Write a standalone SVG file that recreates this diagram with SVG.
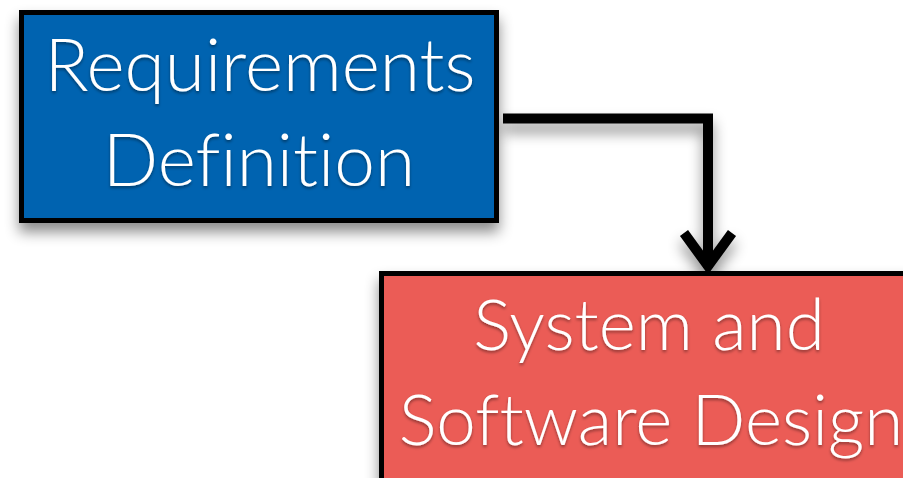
<svg xmlns="http://www.w3.org/2000/svg" width="903" height="478" viewBox="0 0 903 478">
<defs>
<filter id="sh" x="-20%" y="-20%" width="140%" height="160%">
<feDropShadow dx="0" dy="9" stdDeviation="7" flood-color="#000" flood-opacity="0.45"/>
</filter>
<filter id="tsh" x="-10%" y="-20%" width="120%" height="150%">
<feDropShadow dx="0" dy="2" stdDeviation="1.5" flood-color="#000" flood-opacity="0.4"/>
</filter>
</defs>
<style>
.box{stroke:#000;stroke-width:5}
.lbl{font-family:Lato,"Open Sans",sans-serif;font-weight:300;font-variant-ligatures:none;fill:#fff;text-anchor:middle}
.conn{fill:none;stroke:#000;stroke-width:10}
</style>
<rect width="903" height="478" fill="#fff"/>
<g id="connectors" filter="url(#sh)">
<polyline class="conn" points="503,118.5 708,118.5 708,268"/>
<polyline class="conn" stroke-linejoin="miter" points="684,233 708,266 732,233"/>
</g>
<g id="node-requirements">
<rect class="box" x="21.5" y="12.5" width="475" height="208" fill="#0064B0" filter="url(#sh)"/>
<g class="lbl" font-size="73" filter="url(#tsh)">
<text x="260" y="91">Requirements</text>
<text x="259" y="186">Definition</text>
</g>
</g>
<g id="node-design">
<rect class="box" x="381.5" y="273.5" width="560" height="230" fill="#EB5B57" filter="url(#sh)"/>
<g class="lbl" font-size="71" filter="url(#tsh)">
<text x="649" y="350">System and</text>
<text x="651" y="445">Software Design</text>
</g>
</g>
</svg>
